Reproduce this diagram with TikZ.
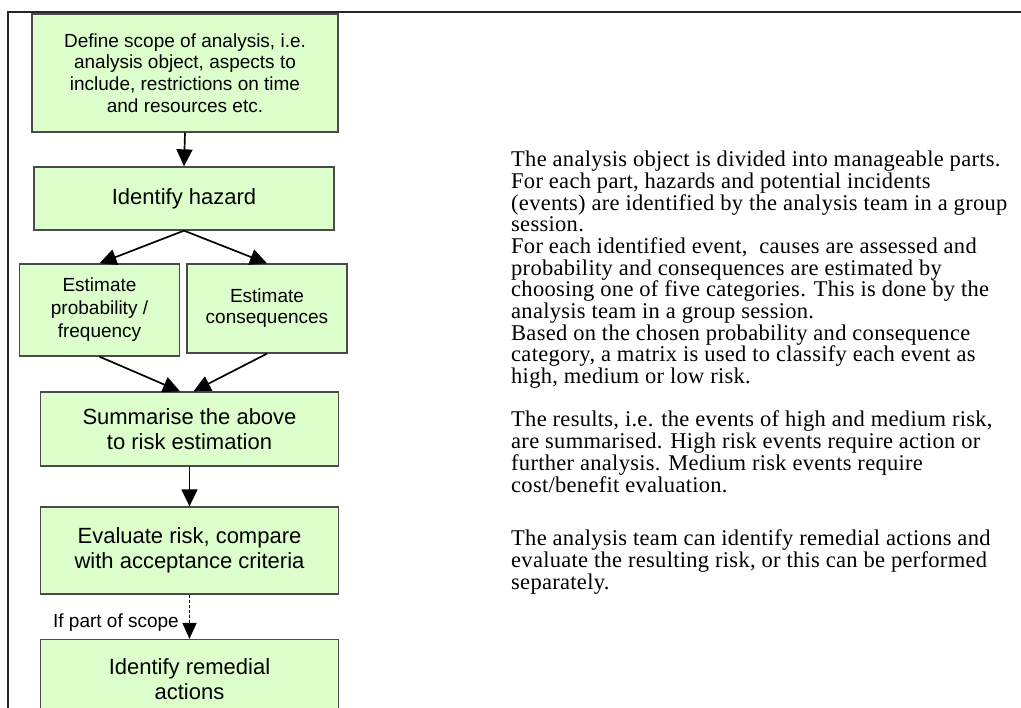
\documentclass[tikz,border=0pt]{standalone}
\usepackage{fontspec}
\setmainfont{Liberation Sans}
\newfontfamily\rtextfont[LetterSpace=1.3]{Liberation Serif}
\usetikzlibrary{arrows.meta}
\definecolor{boxfill}{HTML}{DDFFCC}
\definecolor{boxline}{HTML}{4A4A4A}
\tikzset{
  x=1pt,y=-1pt,
  stepbox/.style={draw=boxline,line width=1.3pt,fill=boxfill,align=center,inner sep=0pt},
  smalltxt/.style={font=\fontsize{19}{21.7}\selectfont},
  bigtxt/.style={font=\fontsize{22}{24.5}\selectfont},
  arr/.style={line width=1.7pt,-{Triangle[length=17pt,width=16pt]}},
  darr/.style={line width=1.7pt,dash pattern=on 3pt off 2pt,-{Triangle[length=16pt,width=14pt]}},
  rline/.style={anchor=base west,inner sep=0pt,font=\rtextfont\fontsize{22.5}{21.65}\selectfont},
}
\begin{document}
\begin{tikzpicture}
\useasboundingbox (0,0) rectangle (1021,708);
\clip (0,0) rectangle (1021,708);
% frame
\draw[line width=2pt,black!85] (1021,12) -- (8,12) -- (8,710);
% boxes
\node[stepbox,smalltxt,minimum width=306pt,minimum height=118pt] (b1) at (185,73)
  {Define scope of analysis, i.e.\\analysis object, aspects to\\include, restrictions on time\\and resources etc.};
\node[stepbox,bigtxt,minimum width=300pt,minimum height=63pt] (b2) at (184,198.5) {Identify hazard};
\node[stepbox,minimum width=160pt,minimum height=92pt,font=\fontsize{19}{23}\selectfont] (b3) at (99.5,310)
  {Estimate\\probability /\\frequency};
\node[stepbox,minimum width=160pt,minimum height=89pt,font=\fontsize{19}{21}\selectfont] (b4) at (267,308.5)
  {Estimate\\consequences};
\node[stepbox,bigtxt,minimum width=298pt,minimum height=74pt] (b5) at (189.5,429)
  {Summarise the above\\to risk estimation};
\node[stepbox,bigtxt,minimum width=298pt,minimum height=87pt] (b6) at (189.5,550.5)
  {Evaluate risk, compare\\with acceptance criteria};
\node[stepbox,bigtxt,minimum width=298pt,minimum height=79pt] (b7) at (189.5,679)
  {Identify remedial\\actions};
% connectors
\draw[arr] (b1.south) -- (b2.north);
\draw[arr] (b2.south) -- (b3.north);
\draw[arr] (b2.south) -- (b4.north);
\draw[arr] (b3.south) -- ([xshift=-9.5pt]b5.north);
\draw[arr] (b4.south) -- ([xshift=4pt]b5.north);
\draw[arr] (b5.south) -- (b6.north);
\draw[darr] (b6.south) -- (b7.north);
\node[smalltxt,anchor=east,inner sep=0pt] (lbl) at (179,623) {If part of scope};
% right-hand text
\foreach \yy/\txt [count=\i] in {
  167/{The analysis object is divided into manageable parts.},
  188.6/{For each part, hazards and potential incidents},
  210.3/{(events) are identified by the analysis team in a group},
  231.9/{session.},
  253.6/{For each identified event,\ \ causes are assessed and},
  275.2/{probability and consequences are estimated by},
  296.9/{choosing one of five categories. This is done by the},
  318.5/{analysis team in a group session.},
  340.2/{Based on the chosen probability and consequence},
  361.8/{category, a matrix is used to classify each event as},
  383.5/{high, medium or low risk.},
  427/{The results, i.e. the events of high and medium risk,},
  449/{are summarised. High risk events require action or},
  471/{further analysis. Medium risk events require},
  493/{cost/benefit evaluation.},
  546/{The analysis team can identify remedial actions and},
  568/{evaluate the resulting risk, or this can be performed},
  590/{separately.}}
  \node[rline] (r\i) at (511,\yy) {\txt};
\end{tikzpicture}
\end{document}
